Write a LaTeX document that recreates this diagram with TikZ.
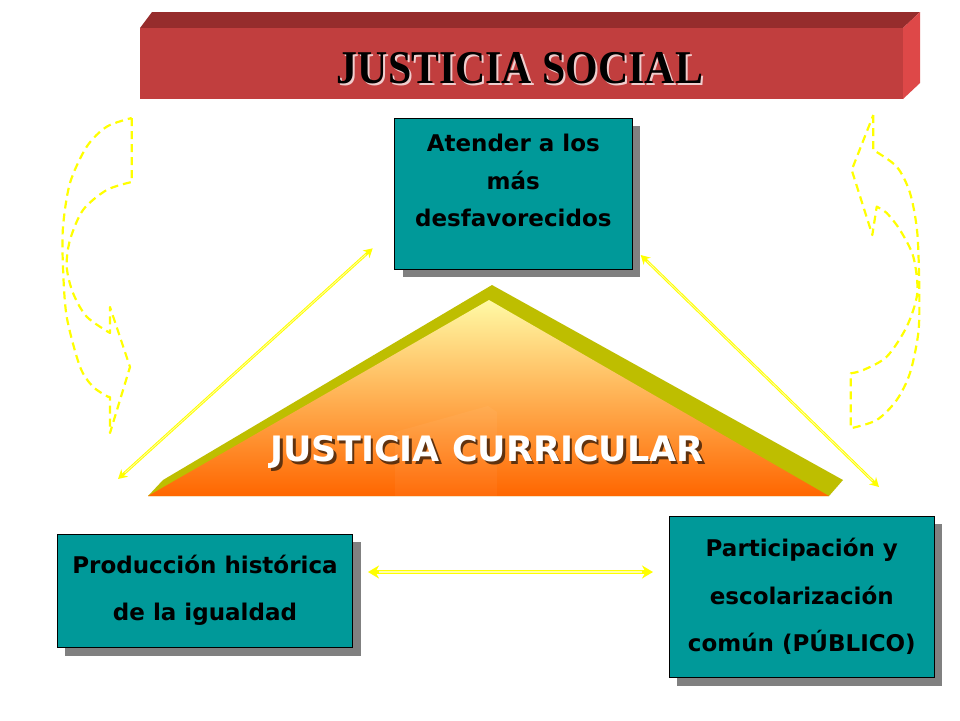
\documentclass[tikz,border=0pt]{standalone}
\usepackage{graphicx}
\usepackage{fontspec}
\setmainfont{Liberation Serif}
\newfontfamily\boxfont{DejaVu Sans}
\usetikzlibrary{arrows.meta,shadows}
\definecolor{bannerfront}{RGB}{193,62,62}
\definecolor{bannertop}{RGB}{150,44,44}
\definecolor{bannerside}{RGB}{222,72,72}
\definecolor{teal1}{RGB}{0,153,153}
\definecolor{olive1}{RGB}{190,190,0}
\definecolor{tritop}{RGB}{255,250,165}
\definecolor{trimid}{RGB}{255,185,75}
\definecolor{tribot}{RGB}{255,102,0}
\definecolor{ylw}{RGB}{255,255,0}
\definecolor{ylwlight}{RGB}{255,255,170}
\definecolor{shadowgray}{RGB}{128,128,128}
\definecolor{titleshadow}{RGB}{240,205,205}
\definecolor{jcshadow}{RGB}{95,50,15}
\newcommand{\withshadow}[4]{\makebox[0pt][l]{\hspace*{#2}\raisebox{-#3}{\textcolor{#1}{#4}}}#4}
\begin{document}
\begin{tikzpicture}[x=1pt,y=-1pt,
  box/.style={draw=black, line width=0.9pt, fill=teal1, inner sep=0pt,
    drop shadow={shadow xshift=8pt, shadow yshift=-8pt, fill=shadowgray, opacity=1}},
  boxtxt/.style={anchor=base, inner sep=0pt, font=\boxfont\bfseries\fontsize{23}{28}\selectfont},
  dasharrow/.style={draw=ylw, line width=2.2pt, dash pattern=on 8pt off 5pt, line join=round},
  thickarrow/.style={draw=ylw, line width=4pt, {Stealth[length=11pt,width=13pt]}-{Stealth[length=11pt,width=13pt]}},
  diagarrow/.style={draw=ylw, line width=2.8pt, {Stealth[length=9pt,width=10pt]}-{Stealth[length=9pt,width=10pt]}},
  innerline/.style={draw=ylwlight, line width=0.8pt, shorten >=9pt, shorten <=9pt},
  titletxt/.style={anchor=base, inner sep=0pt}
]
\useasboundingbox[fill=white] (0,0) rectangle (960,720);

% ---- banner ----
\fill[bannertop] (140,28) -- (152,12) -- (920,12) -- (903,28) -- cycle;
\fill[bannerside] (903,28) -- (920,12) -- (920,83) -- (903,99) -- cycle;
\fill[bannerfront] (140,28) rectangle (903,99);
\node[titletxt, text=black] (title) at (520,83)
  {\bfseries\fontsize{47}{50}\selectfont\scalebox{0.89}[1]{\withshadow{titleshadow}{2.3pt}{2.3pt}{JUSTICIA SOCIAL}}};

% ---- dashed curved arrows ----
\draw[dasharrow] (131.7,118) -- (131.7,182)
  -- plot[smooth] coordinates {(131.7,182) (106.7,190) (83,210) (70,240) (66.7,266.7) (73,293) (86.7,316.7) (110,333)}
  -- (110,307) -- (130,367) -- (110,433) -- (110,397)
  -- plot[smooth] coordinates {(108,396.7) (93,386.7) (80,366.7) (66.7,316.7) (63,267) (63,227) (70,183) (86.7,146.7) (106.7,126.7) (131.7,118)}
  -- cycle;
\draw[dasharrow] (873.3,115) -- (873.3,150)
  -- plot[smooth] coordinates {(873.3,150) (896.7,166.7) (910,193) (917.3,233) (919.3,293) (918.3,333) (910,373) (896.7,400) (876.7,420) (850.7,428.3)}
  -- (850.7,373.3)
  -- plot[smooth] coordinates {(850.7,373.3) (863.3,370) (886.7,356.7) (906.7,326.7) (917.3,293) (913.3,256.7) (900,230) (886.7,213) (876.7,206.7)}
  -- (872.3,235) -- (851.7,170) -- cycle;

% ---- triangle ----
\fill[olive1] (148,496) -- (163,480) -- (492,285) -- (843,480) -- (829,496) -- cycle;
\shade[top color=tritop, middle color=trimid, bottom color=tribot]
  (148,496) -- (489,300) -- (829,496) -- cycle;
\fill[white, opacity=0.045] (395,432) -- (488,406) -- (497,412) -- (497,496) -- (395,496) -- cycle;
\node[titletxt, text=white] (jc) at (487,461.7)
  {\boxfont\bfseries\fontsize{35}{40}\selectfont\withshadow{jcshadow}{2.5pt}{2.5pt}{JUSTICIA CURRICULAR}};

% ---- boxes ----
\node[box, minimum width=237.3pt, minimum height=150.7pt] (top) at (513.3,193.7) {};
\node[boxtxt] (top1) at (513.3,151.5) {Atender a los};
\node[boxtxt] (top2) at (513.3,189) {más};
\node[boxtxt] (top3) at (513.3,226.5) {desfavorecidos};

\node[box, minimum width=295.4pt, minimum height=113.7pt] (left) at (205,590.8) {};
\node[boxtxt] (left1) at (205,573) {Producción histórica};
\node[boxtxt] (left2) at (205,620) {de la igualdad};

\node[box, minimum width=265pt, minimum height=161.7pt] (right) at (801.8,596.8) {};
\node[boxtxt] (right1) at (801.8,556) {Participación y};
\node[boxtxt] (right2) at (801.8,604) {escolarización};
\node[boxtxt] (right3) at (801.8,651) {común (PÚBLICO)};

% ---- arrows ----
\coordinate (dl1) at (372.7,248.3);
\coordinate (dl2) at (118,479);
\coordinate (dr1) at (640.7,255);
\coordinate (dr2) at (879,487);
\coordinate (h1) at (368,572);
\coordinate (h2) at (653,572);
\draw[diagarrow] (dl1) -- (dl2);
\draw[innerline] (dl1) -- (dl2);
\draw[diagarrow] (dr1) -- (dr2);
\draw[innerline] (dr1) -- (dr2);
\draw[thickarrow] (h1) -- (h2);
\draw[innerline, line width=1.2pt, shorten >=11pt, shorten <=11pt] (h1) -- (h2);
\end{tikzpicture}
\end{document}
